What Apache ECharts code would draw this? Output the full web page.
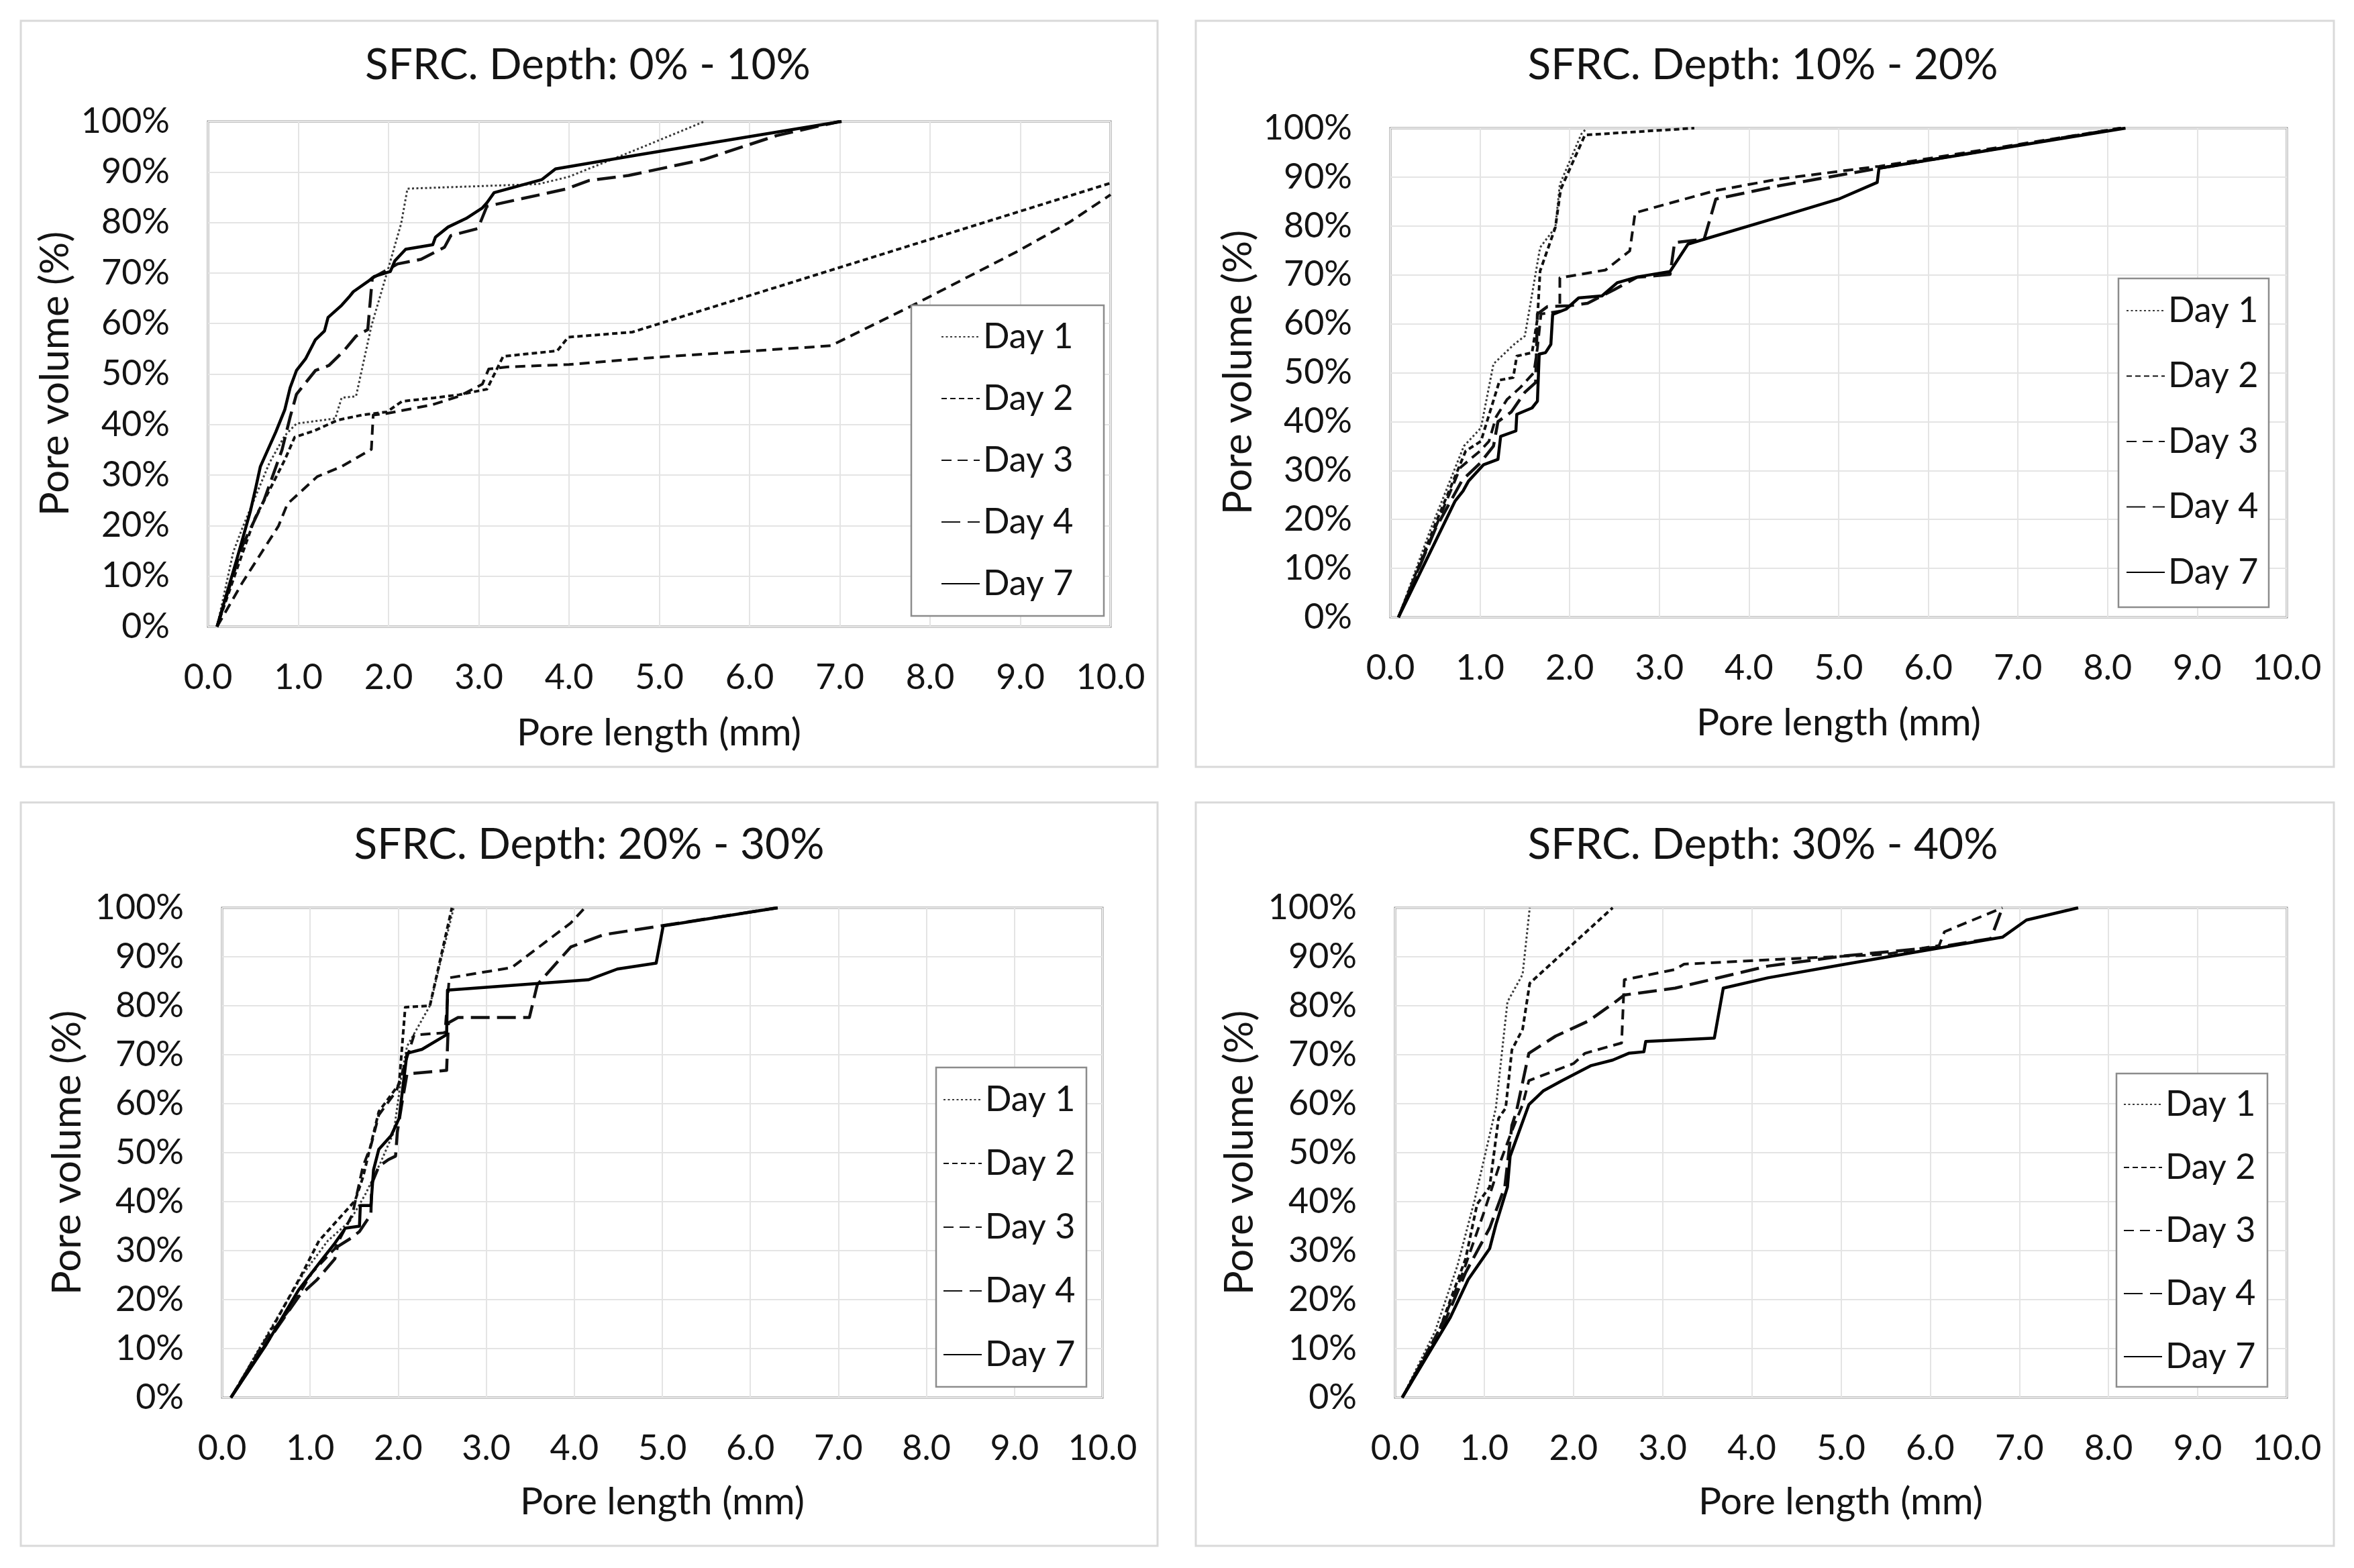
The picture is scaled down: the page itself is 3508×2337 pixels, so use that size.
<!DOCTYPE html>
<html>
<head>
<meta charset="utf-8">
<script src="https://cdn.jsdelivr.net/npm/echarts@6/dist/echarts.min.js"></script>
<style>
html,body{margin:0;padding:0;background:#fff;}
#chart{width:3508px;height:2337px;}
</style>
</head>
<body>
<div id="chart"></div>
<script>
// ---------- DATA ----------
const days = ['Day 1', 'Day 2', 'Day 3', 'Day 4', 'Day 7'];
const panelTitles = ['SFRC. Depth: 0% - 10%', 'SFRC. Depth: 10% - 20%', 'SFRC. Depth: 20% - 30%', 'SFRC. Depth: 30% - 40%'];
const xAxisTitle = 'Pore length (mm)';
const yAxisTitle = 'Pore volume (%)';
const xTicks = [0, 1, 2, 3, 4, 5, 6, 7, 8, 9, 10];
const yTicks = [0, 10, 20, 30, 40, 50, 60, 70, 80, 90, 100];

// Panel 1: depth 0% - 10%  ([pore length mm, pore volume %])
const p1_day1 = [[0.1,0],[0.28,14.8],[0.38,19.5],[0.68,32.4],[0.85,37.8],[0.98,40.2],[1.41,41.2],[1.48,45.3],[1.64,45.6],[1.81,59.5],[2.01,71.7],[2.14,79.8],[2.21,86.7],[3.66,87.6],[3.99,89],[4.77,94.6],[5.5,100]];
const p1_day2 = [[0.1,0],[0.32,11.4],[0.52,21.5],[0.68,27],[0.85,33],[0.96,37.5],[1.18,38.8],[1.44,40.9],[1.71,41.9],[1.98,42.5],[2.15,44.6],[2.51,45.3],[2.78,45.9],[3.09,47],[3.27,53.5],[3.87,54.6],[3.99,57.3],[4.7,58.3],[10,87.8]];
const p1_day3 = [[0.1,0],[0.38,8.7],[0.78,19.9],[0.88,24.3],[1.21,29.7],[1.48,31.7],[1.81,35.1],[1.83,41.9],[1.98,42.2],[2.48,43.9],[2.78,45.6],[3.04,48],[3.11,51],[3.31,51.4],[4.0,51.9],[5.03,53.4],[6.9,55.6],[7.83,63.8],[8.97,74.3],[9.54,80],[10,85.5]];
const p1_day4 = [[0.1,0],[0.38,16],[0.62,25],[0.82,35],[0.91,41.5],[0.98,46],[1.19,50.7],[1.34,51.7],[1.51,54.7],[1.64,57.5],[1.77,58.8],[1.82,69],[2.1,71.8],[2.36,72.7],[2.62,75.1],[2.69,77.4],[2.99,78.8],[3.09,83.2],[3.96,86.6],[4.22,88.3],[4.66,89.3],[5.5,92.5],[6.3,97.2],[7.0,100]];
const p1_day7 = [[0.1,0],[0.32,13.4],[0.47,22.9],[0.53,27.6],[0.58,31.7],[0.75,38.5],[0.85,42.9],[0.91,47.3],[0.98,50.7],[1.08,53],[1.19,56.8],[1.29,58.5],[1.33,61.2],[1.48,63.6],[1.56,65.2],[1.61,66.3],[1.77,68.3],[1.84,69.3],[2.02,70.3],[2.07,72.4],[2.19,74.7],[2.49,75.6],[2.52,77.1],[2.66,79.1],[2.86,80.8],[3.04,82.9],[3.09,83.9],[3.17,85.9],[3.7,88.5],[3.85,90.6],[4.77,93.4],[7.02,100]];

// Panel 2: depth 10% - 20%
const p2_day1 = [[0.09,0],[0.44,17.6],[0.82,35],[1.01,38.7],[1.15,51.8],[1.38,55.8],[1.5,57.5],[1.67,75.6],[1.84,79.7],[1.89,88.5],[2.13,98.8],[2.19,100]];
const p2_day2 = [[0.09,0],[0.5,19],[0.84,34],[1.01,36],[1.22,48.5],[1.37,49],[1.41,53.4],[1.58,54.1],[1.64,61],[1.67,70.8],[1.84,79.7],[1.9,87.5],[2.17,98.6],[3.39,100]];
const p2_day3 = [[0.09,0],[0.47,16.9],[0.78,30.6],[1.0,34],[1.1,36],[1.18,41],[1.3,44.5],[1.45,47],[1.6,50],[1.64,55],[1.68,62],[1.89,62.6],[1.89,69.4],[2.4,71],[2.67,74.9],[2.73,82.7],[3.62,87.2],[4.33,89.6],[5.45,92.2],[8.15,100]];
const p2_day4 = [[0.09,0],[0.5,18],[0.8,28],[1.0,31.5],[1.15,35],[1.2,40],[1.35,42],[1.5,46],[1.62,48],[1.64,62],[1.75,63.5],[2.0,63.7],[2.2,64.2],[2.5,67],[2.75,69.5],[3.12,70.1],[3.17,76.6],[3.5,77.3],[3.63,85.5],[4.33,88.2],[5.45,91.8],[8.15,100]];
const p2_day7 = [[0.09,0],[0.72,23.7],[0.81,25.8],[0.87,27.8],[1.04,31.2],[1.2,32.3],[1.23,37],[1.4,38.1],[1.41,41.5],[1.58,42.8],[1.64,44.2],[1.66,53.8],[1.73,54.1],[1.79,55.8],[1.81,61.9],[1.96,63],[2.1,65.3],[2.36,65.7],[2.53,68.4],[2.76,69.6],[3.12,70.7],[3.32,76.3],[4.33,81.8],[5.0,85.5],[5.43,88.9],[5.45,91.8],[8.2,100]];

// Panel 3: depth 20% - 30%
const p3_day1 = [[0.1,0],[0.5,12.5],[0.93,25.5],[1.2,32],[1.45,36],[1.63,41.6],[1.8,48],[1.95,54.2],[2.04,66],[2.1,71.7],[2.36,80],[2.63,100]];
const p3_day2 = [[0.1,0],[0.5,12],[0.9,25],[1.1,32],[1.3,36],[1.51,40.2],[1.6,45],[1.78,58.4],[2.01,64],[2.08,79.7],[2.36,80],[2.61,100]];
const p3_day3 = [[0.1,0],[0.5,12],[0.79,18.5],[1.02,25.5],[1.28,30.4],[1.48,37.4],[1.6,47.2],[1.69,51.4],[1.78,57.7],[1.98,62.6],[2.18,74],[2.53,74.5],[2.58,85.7],[3.29,87.8],[3.96,96.9],[4.12,100]];
const p3_day4 = [[0.1,0],[0.5,11],[0.87,20.6],[1.08,24.1],[1.28,28.3],[1.31,30.8],[1.46,32.5],[1.56,33.9],[1.69,37.4],[1.7,43.7],[1.78,47.2],[1.89,48.6],[1.97,49.3],[1.99,54.2],[2.04,59.8],[2.1,66.1],[2.55,66.8],[2.57,76.5],[2.68,77.6],[3.49,77.6],[3.58,84.3],[3.96,92],[4.33,94.5],[4.95,96.2],[6.31,100]];
const p3_day7 = [[0.1,0],[0.5,10.8],[0.87,22],[0.99,24.8],[1.14,28.3],[1.28,31.5],[1.4,34.6],[1.56,35],[1.57,39.2],[1.69,39.2],[1.72,46.5],[1.78,50.7],[1.92,53.5],[2.01,57],[2.1,70.3],[2.27,71.1],[2.55,74.1],[2.56,83.2],[4.16,85.3],[4.49,87.5],[4.93,88.7],[5.01,96.3],[6.31,100]];

// Panel 4: depth 30% - 40%
const p4_day1 = [[0.08,0],[0.45,13.6],[0.7,27],[0.89,40.2],[1.13,59.1],[1.26,80.8],[1.43,86.4],[1.51,100]];
const p4_day2 = [[0.08,0],[0.5,14],[0.79,28.3],[0.92,39.5],[1.06,43],[1.16,57],[1.24,59.1],[1.31,71],[1.43,75.2],[1.51,84.6],[2.44,100]];
const p4_day3 = [[0.08,0],[0.5,14],[0.76,25.5],[1.0,38],[1.19,48.6],[1.3,54],[1.43,59.8],[1.5,64.7],[2.0,68.2],[2.13,70.3],[2.54,72.4],[2.57,85.3],[3.14,87.4],[3.24,88.5],[4.32,89.5],[5.5,90.5],[6.1,92.3],[6.16,95.1],[6.81,100]];
const p4_day4 = [[0.08,0],[0.5,13],[0.79,25.5],[1.06,34.6],[1.23,43],[1.31,55.6],[1.36,58.4],[1.5,70.3],[1.8,73.8],[2.17,76.9],[2.47,80.8],[2.57,82.2],[3.14,83.6],[4.18,88.1],[5.05,90.2],[6.1,92],[6.68,93.7],[6.81,100]];
const p4_day7 = [[0.08,0],[0.62,16.4],[0.82,24.1],[1.06,30.4],[1.13,35.3],[1.26,43],[1.29,49.3],[1.43,56.3],[1.5,59.8],[1.66,62.6],[1.87,64.7],[2.2,67.8],[2.44,68.9],[2.62,70.3],[2.79,70.6],[2.81,72.7],[3.58,73.4],[3.68,83.6],[4.18,85.7],[5.05,88.5],[6.81,94],[7.08,97.5],[7.66,100]];

const panelData = [
  [p1_day1, p1_day2, p1_day3, p1_day4, p1_day7],
  [p2_day1, p2_day2, p2_day3, p2_day4, p2_day7],
  [p3_day1, p3_day2, p3_day3, p3_day4, p3_day7],
  [p4_day1, p4_day2, p4_day3, p4_day4, p4_day7]
];

// ---------- LAYOUT / STYLE ----------
const FONT = 'Lato, "Open Sans", "DejaVu Sans", sans-serif';
const TXT = '#141414';
const grids = [
  {left: 310, top: 181, width: 1345, height: 753},
  {left: 2072, top: 191, width: 1336, height: 729},
  {left: 331, top: 1353, width: 1312, height: 730},
  {left: 2079, top: 1353, width: 1329, height: 730}
];
const frames = [
  {x: 31, y: 31, w: 1694, h: 1112},
  {x: 1782, y: 31, w: 1696, h: 1112},
  {x: 31, y: 1196, w: 1694, h: 1108},
  {x: 1782, y: 1196, w: 1696, h: 1108}
];
const titlePos = [[876, 97], [2627, 97], [878, 1259], [2627, 1259]];
const yNamePos = [[83, 557], [1846, 555], [101, 1718], [1848, 1718]];
const xNamePos = [[982, 1093], [2740, 1078], [987, 2239], [2743, 2239]];
const legendBoxes = [
  {x: 1358, y: 455, w: 287, h: 463, left: 1402, top: 472, gap: 32},
  {x: 3157, y: 415, w: 224, h: 490, left: 3168, top: 433, gap: 37.5},
  {x: 1395, y: 1591, w: 224, h: 476, left: 1405, top: 1609, gap: 35},
  {x: 3154, y: 1600, w: 225, h: 467, left: 3164, top: 1616, gap: 34}
];
const dayStyles = [
  {color: '#3a3a3a', width: 3, type: [3, 3.5]},
  {color: '#111', width: 4, type: [8, 5]},
  {color: '#111', width: 4, type: [15, 9]},
  {color: '#111', width: 4.5, type: [28, 11]},
  {color: '#000', width: 4.5, type: 'solid'}
];

const option = {
  animation: false,
  backgroundColor: '#fff',
  grid: [], xAxis: [], yAxis: [], series: [], legend: [], graphic: []
};

for (let p = 0; p < 4; p++) {
  const g = grids[p];
  option.grid.push({left: g.left, top: g.top, width: g.width, height: g.height,
    show: true, borderColor: '#8c8c8c', borderWidth: 3, backgroundColor: 'transparent', containLabel: false});
  option.xAxis.push({
    type: 'value', gridIndex: p, min: xTicks[0], max: xTicks[xTicks.length - 1], interval: 1,
    axisLine: {show: false}, axisTick: {show: false},
    splitLine: {show: true, lineStyle: {color: '#e4e4e4', width: 2}},
    axisLabel: {margin: 50, fontSize: 52, lineHeight: 52, fontFamily: FONT, color: TXT,
      formatter: v => v.toFixed(1)}
  });
  option.yAxis.push({
    type: 'value', gridIndex: p, min: yTicks[0], max: yTicks[yTicks.length - 1], interval: 10,
    axisLine: {show: false}, axisTick: {show: false},
    splitLine: {show: true, lineStyle: {color: '#e4e4e4', width: 2}},
    axisLabel: {margin: 57, fontSize: 52, fontFamily: FONT, color: TXT, formatter: v => v + '%'}
  });
  for (let d = 0; d < days.length; d++) {
    const st = dayStyles[d];
    option.series.push({
      type: 'line', name: days[d], xAxisIndex: p, yAxisIndex: p,
      data: panelData[p][d], symbol: 'none', showSymbol: false, z: 3 + d,
      itemStyle: {color: st.color},
      lineStyle: {color: st.color, width: st.width, type: st.type, cap: 'butt', join: 'round'},
      emphasis: {disabled: true}
    });
  }
  const lb = legendBoxes[p];
  option.legend.push({
    data: days, orient: 'vertical', left: lb.left, top: lb.top, padding: 0,
    itemWidth: 57, itemHeight: 14, itemGap: lb.gap, z: 60, selectedMode: false,
    itemStyle: {opacity: 0, borderWidth: 0},
    textStyle: {fontSize: 52, lineHeight: 60, fontFamily: FONT, color: TXT}
  });
  // panel frame
  const f = frames[p];
  option.graphic.push({type: 'rect', z: 0, silent: true,
    shape: {x: f.x, y: f.y, width: f.w, height: f.h},
    style: {fill: 'none', stroke: '#d9d9d9', lineWidth: 3}});
  // legend box
  option.graphic.push({type: 'rect', z: 50, silent: true,
    shape: {x: lb.x, y: lb.y, width: lb.w, height: lb.h},
    style: {fill: '#fff', stroke: '#8c8c8c', lineWidth: 2.5}});
  // title
  option.graphic.push({type: 'text', z: 50, silent: true, x: titlePos[p][0], y: titlePos[p][1],
    style: {text: panelTitles[p], font: '64px ' + FONT, fill: TXT,
      textAlign: 'center', textVerticalAlign: 'middle', align: 'center', verticalAlign: 'middle'}});
  // y axis name
  option.graphic.push({type: 'text', z: 50, silent: true, x: yNamePos[p][0], y: yNamePos[p][1], rotation: Math.PI / 2,
    style: {text: yAxisTitle, font: '60px ' + FONT, fill: TXT,
      textAlign: 'center', textVerticalAlign: 'middle', align: 'center', verticalAlign: 'middle'}});
  // x axis name
  option.graphic.push({type: 'text', z: 50, silent: true, x: xNamePos[p][0], y: xNamePos[p][1],
    style: {text: xAxisTitle, font: '57px ' + FONT, fill: TXT,
      textAlign: 'center', textVerticalAlign: 'middle', align: 'center', verticalAlign: 'middle'}});
}

const chart = echarts.init(document.getElementById('chart'), null, {renderer: 'canvas', width: 3508, height: 2337});
chart.setOption(option);
</script>
</body>
</html>
